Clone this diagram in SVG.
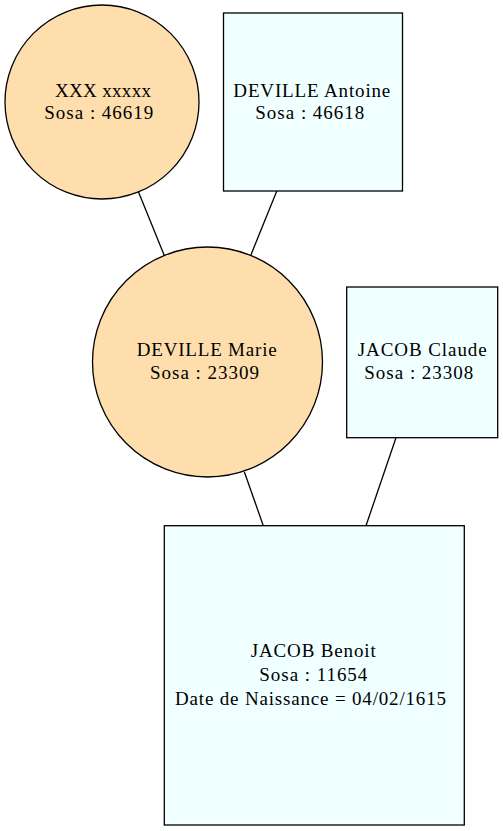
<svg xmlns="http://www.w3.org/2000/svg" width="503" height="831" viewBox="0 0 503 831">
<style>
.f{fill:#ffdead;stroke:#000;stroke-width:1.3}
.m{fill:#f0ffff;stroke:#000;stroke-width:1.3}
.e{stroke:#000;stroke-width:1.3;fill:none}
text{font-family:"Liberation Serif","Times New Roman",serif;font-size:19px;fill:#000}
</style>
<rect width="503" height="831" fill="#fff"/>
<g id="edges">
<line class="e" x1="138.5" y1="192" x2="164.3" y2="255.4"/>
<line class="e" x1="276.8" y1="191" x2="250.7" y2="255.4"/>
<line class="e" x1="244.3" y1="471.7" x2="263.3" y2="525.7"/>
<line class="e" x1="396" y1="437.7" x2="366" y2="525.7"/>
</g>
<g id="n46619">
<circle class="f" cx="102" cy="102" r="97"/>
<text x="55" y="96.5" textLength="96" lengthAdjust="spacing">XXX xxxxx</text>
<text x="44.3" y="119.3" textLength="109" lengthAdjust="spacing">Sosa : 46619</text>
</g>
<g id="n46618">
<rect class="m" x="223.5" y="13" width="179" height="178"/>
<text x="233.3" y="96.5" textLength="157" lengthAdjust="spacing">DEVILLE Antoine</text>
<text x="255.3" y="119.3" textLength="109" lengthAdjust="spacing">Sosa : 46618</text>
</g>
<g id="n23309">
<circle class="f" cx="207.5" cy="362" r="115"/>
<text x="136.7" y="356" textLength="140" lengthAdjust="spacing">DEVILLE Marie</text>
<text x="150" y="379.3" textLength="109" lengthAdjust="spacing">Sosa : 23309</text>
</g>
<g id="n23308">
<rect class="m" x="346.7" y="287" width="151" height="150.7"/>
<text x="357.7" y="356" textLength="129" lengthAdjust="spacing">JACOB Claude</text>
<text x="364.3" y="379.3" textLength="109" lengthAdjust="spacing">Sosa : 23308</text>
</g>
<g id="n11654">
<rect class="m" x="164.3" y="525.7" width="300" height="299.3"/>
<text x="250.7" y="656.5" textLength="125" lengthAdjust="spacing">JACOB Benoit</text>
<text x="259.3" y="681" textLength="108" lengthAdjust="spacing">Sosa : 11654</text>
<text x="175" y="705" textLength="271" lengthAdjust="spacing">Date de Naissance = 04/02/1615</text>
</g>
</svg>
